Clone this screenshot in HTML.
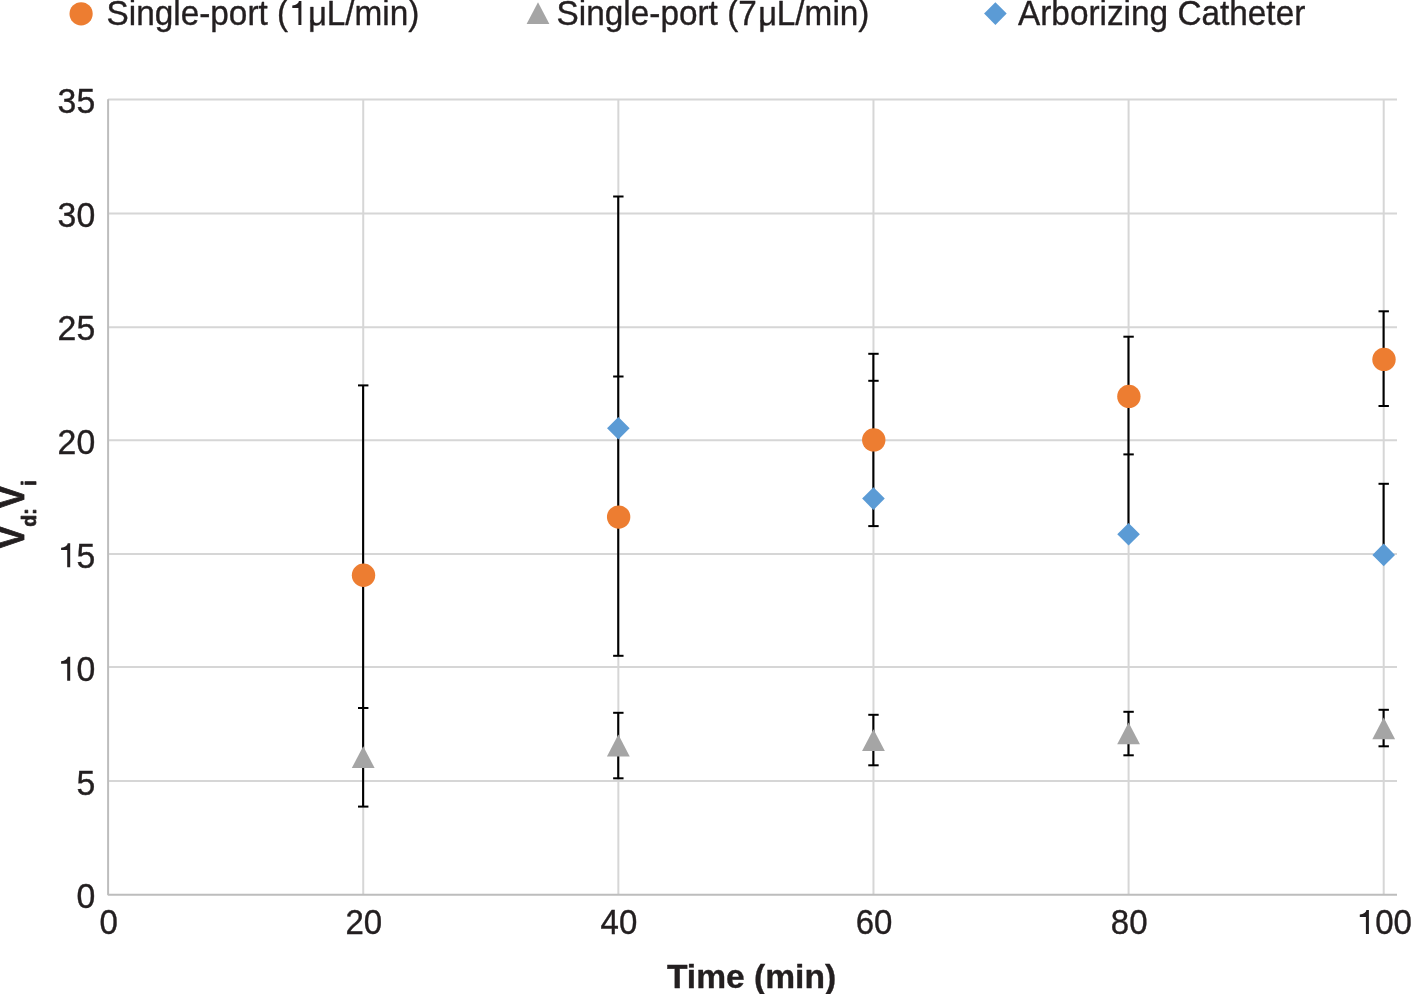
<!DOCTYPE html>
<html><head><meta charset="utf-8"><title>Chart</title>
<style>html,body{margin:0;padding:0;background:#fff;overflow:hidden}svg{display:block;will-change:transform}text{font-family:"Liberation Sans",sans-serif;fill:#231f20;stroke:#231f20;stroke-width:0.35px;stroke-linejoin:round}.h{fill:none;stroke:none}</style></head><body>
<svg width="1411" height="994" viewBox="0 0 1411 994">
<rect width="1411" height="994" fill="#ffffff"/>
<line x1="108.10" x2="1397.00" y1="781.02" y2="781.02" stroke="#d6d6d6" stroke-width="2"/>
<line x1="108.10" x2="1397.00" y1="666.94" y2="666.94" stroke="#d6d6d6" stroke-width="2"/>
<line x1="108.10" x2="1397.00" y1="554.12" y2="554.12" stroke="#d6d6d6" stroke-width="2"/>
<line x1="108.10" x2="1397.00" y1="440.20" y2="440.20" stroke="#d6d6d6" stroke-width="2"/>
<line x1="108.10" x2="1397.00" y1="327.32" y2="327.32" stroke="#d6d6d6" stroke-width="2"/>
<line x1="108.10" x2="1397.00" y1="213.45" y2="213.45" stroke="#d6d6d6" stroke-width="2"/>
<line x1="108.10" x2="1397.00" y1="99.57" y2="99.57" stroke="#d6d6d6" stroke-width="2"/>
<line x1="363.22" x2="363.22" y1="99.57" y2="894.85" stroke="#d6d6d6" stroke-width="2"/>
<line x1="618.34" x2="618.34" y1="99.57" y2="894.85" stroke="#d6d6d6" stroke-width="2"/>
<line x1="873.46" x2="873.46" y1="99.57" y2="894.85" stroke="#d6d6d6" stroke-width="2"/>
<line x1="1128.58" x2="1128.58" y1="99.57" y2="894.85" stroke="#d6d6d6" stroke-width="2"/>
<line x1="1383.70" x2="1383.70" y1="99.57" y2="894.85" stroke="#d6d6d6" stroke-width="2"/>
<polyline points="108.10,99.17 108.10,894.85 1397.00,894.85" fill="none" stroke="#bdbdbd" stroke-width="2" stroke-linejoin="bevel"/>
<text transform="translate(95.2,908.30) scale(1.025,1.055)" font-size="33" text-anchor="end">0</text>
<text transform="translate(95.2,794.73) scale(1.025,1.055)" font-size="33" text-anchor="end">5</text>
<path d="M70.20,680.76 L70.20,656.86 L67.75,656.86 C67.30,659.16 65.00,661.06 61.10,661.26 L61.10,663.66 L67.20,663.66 L67.20,680.76 Z" fill="#231f20"/>
<text transform="translate(95.2,681.16) scale(1.025,1.055)" font-size="33" text-anchor="end"><tspan class="h">1</tspan>0</text>
<path d="M70.20,567.19 L70.20,543.29 L67.75,543.29 C67.30,545.59 65.00,547.49 61.10,547.69 L61.10,550.09 L67.20,550.09 L67.20,567.19 Z" fill="#231f20"/>
<text transform="translate(95.2,567.59) scale(1.025,1.055)" font-size="33" text-anchor="end"><tspan class="h">1</tspan>5</text>
<text transform="translate(95.2,454.02) scale(1.025,1.055)" font-size="33" text-anchor="end">20</text>
<text transform="translate(95.2,340.45) scale(1.025,1.055)" font-size="33" text-anchor="end">25</text>
<text transform="translate(95.2,226.88) scale(1.025,1.055)" font-size="33" text-anchor="end">30</text>
<text transform="translate(95.2,113.31) scale(1.025,1.055)" font-size="33" text-anchor="end">35</text>
<text transform="translate(108.70,934.1) scale(1,1.04)" font-size="33" text-anchor="middle">0</text>
<text transform="translate(363.82,934.1) scale(1,1.04)" font-size="33" text-anchor="middle">20</text>
<text transform="translate(618.94,934.1) scale(1,1.04)" font-size="33" text-anchor="middle">40</text>
<text transform="translate(874.06,934.1) scale(1,1.04)" font-size="33" text-anchor="middle">60</text>
<text transform="translate(1129.18,934.1) scale(1,1.04)" font-size="33" text-anchor="middle">80</text>
<path d="M1368.90,934.10 L1368.90,910.10 L1366.45,910.10 C1366.00,912.41 1363.70,914.32 1359.80,914.52 L1359.80,916.93 L1365.90,916.93 L1365.90,934.10 Z" fill="#231f20"/>
<text transform="translate(1384.30,934.1) scale(1,1.04)" font-size="33" text-anchor="middle"><tspan class="h">1</tspan>00</text>
<text transform="translate(751.5,988) scale(1.018,1.03)" font-size="33" font-weight="bold" text-anchor="middle">Time (min)</text>
<g transform="translate(24.3,548) rotate(-90) scale(0.97,1.05)"><text x="0" y="0" font-size="33" font-weight="bold" style="stroke-width:0.8px">V<tspan font-size="20" dy="11.5">d:</tspan><tspan dy="-11.5" dx="0.6">V</tspan><tspan font-size="20" dy="11.5" dx="0.7">i</tspan></text></g>
<line x1="363.12" x2="363.12" y1="385.40" y2="806.60" stroke="#000" stroke-width="2.1"/>
<line x1="358.02" x2="368.42" y1="385.40" y2="385.40" stroke="#000" stroke-width="2"/>
<line x1="358.02" x2="368.42" y1="708.00" y2="708.00" stroke="#000" stroke-width="2"/>
<line x1="358.02" x2="368.42" y1="806.60" y2="806.60" stroke="#000" stroke-width="2"/>
<line x1="618.24" x2="618.24" y1="196.50" y2="655.80" stroke="#000" stroke-width="2.1"/>
<line x1="613.14" x2="623.54" y1="196.50" y2="196.50" stroke="#000" stroke-width="2"/>
<line x1="613.14" x2="623.54" y1="376.50" y2="376.50" stroke="#000" stroke-width="2"/>
<line x1="613.14" x2="623.54" y1="655.80" y2="655.80" stroke="#000" stroke-width="2"/>
<line x1="618.24" x2="618.24" y1="712.80" y2="778.30" stroke="#000" stroke-width="2.1"/>
<line x1="613.14" x2="623.54" y1="712.80" y2="712.80" stroke="#000" stroke-width="2"/>
<line x1="613.14" x2="623.54" y1="778.30" y2="778.30" stroke="#000" stroke-width="2"/>
<line x1="873.36" x2="873.36" y1="353.80" y2="526.10" stroke="#000" stroke-width="2.1"/>
<line x1="868.26" x2="878.66" y1="353.80" y2="353.80" stroke="#000" stroke-width="2"/>
<line x1="868.26" x2="878.66" y1="380.80" y2="380.80" stroke="#000" stroke-width="2"/>
<line x1="868.26" x2="878.66" y1="526.10" y2="526.10" stroke="#000" stroke-width="2"/>
<line x1="873.36" x2="873.36" y1="714.80" y2="765.30" stroke="#000" stroke-width="2.1"/>
<line x1="868.26" x2="878.66" y1="714.80" y2="714.80" stroke="#000" stroke-width="2"/>
<line x1="868.26" x2="878.66" y1="765.30" y2="765.30" stroke="#000" stroke-width="2"/>
<line x1="1128.48" x2="1128.48" y1="336.70" y2="534.30" stroke="#000" stroke-width="2.1"/>
<line x1="1123.38" x2="1133.78" y1="336.70" y2="336.70" stroke="#000" stroke-width="2"/>
<line x1="1123.38" x2="1133.78" y1="454.40" y2="454.40" stroke="#000" stroke-width="2"/>
<line x1="1128.48" x2="1128.48" y1="711.80" y2="755.30" stroke="#000" stroke-width="2.1"/>
<line x1="1123.38" x2="1133.78" y1="711.80" y2="711.80" stroke="#000" stroke-width="2"/>
<line x1="1123.38" x2="1133.78" y1="755.30" y2="755.30" stroke="#000" stroke-width="2"/>
<line x1="1383.60" x2="1383.60" y1="311.30" y2="406.00" stroke="#000" stroke-width="2.1"/>
<line x1="1378.50" x2="1388.90" y1="311.30" y2="311.30" stroke="#000" stroke-width="2"/>
<line x1="1378.50" x2="1388.90" y1="406.00" y2="406.00" stroke="#000" stroke-width="2"/>
<line x1="1383.60" x2="1383.60" y1="483.80" y2="554.30" stroke="#000" stroke-width="2.1"/>
<line x1="1378.50" x2="1388.90" y1="483.80" y2="483.80" stroke="#000" stroke-width="2"/>
<line x1="1383.60" x2="1383.60" y1="709.80" y2="746.30" stroke="#000" stroke-width="2.1"/>
<line x1="1378.50" x2="1388.90" y1="709.80" y2="709.80" stroke="#000" stroke-width="2"/>
<line x1="1378.50" x2="1388.90" y1="746.30" y2="746.30" stroke="#000" stroke-width="2"/>
<polygon points="618.34,416.90 629.64,428.20 618.34,439.50 607.04,428.20" fill="#5b9bd5"/>
<polygon points="873.46,487.30 884.76,498.60 873.46,509.90 862.16,498.60" fill="#5b9bd5"/>
<polygon points="1128.58,522.90 1139.88,534.20 1128.58,545.50 1117.28,534.20" fill="#5b9bd5"/>
<polygon points="1383.70,543.60 1395.00,554.90 1383.70,566.20 1372.40,554.90" fill="#5b9bd5"/>
<circle cx="363.52" cy="575.30" r="11.70" fill="#ed7d31"/>
<circle cx="618.64" cy="517.10" r="11.70" fill="#ed7d31"/>
<circle cx="873.76" cy="439.90" r="11.70" fill="#ed7d31"/>
<circle cx="1128.88" cy="396.40" r="11.70" fill="#ed7d31"/>
<circle cx="1384.00" cy="359.40" r="11.70" fill="#ed7d31"/>
<polygon points="363.22,746.20 374.62,768.00 351.82,768.00" fill="#a5a5a5"/>
<polygon points="618.34,734.60 629.74,756.40 606.94,756.40" fill="#a5a5a5"/>
<polygon points="873.46,729.20 884.86,751.00 862.06,751.00" fill="#a5a5a5"/>
<polygon points="1128.58,722.40 1139.98,744.20 1117.18,744.20" fill="#a5a5a5"/>
<polygon points="1383.70,717.40 1395.10,739.20 1372.30,739.20" fill="#a5a5a5"/>
<circle cx="81.10" cy="13.80" r="11.60" fill="#ed7d31"/>
<text transform="translate(106.5,25.2) scale(1.011,1.04)" font-size="33">Single-port (<tspan class="h">1µ</tspan><tspan dx="0.8">L/min)</tspan></text>
<g transform="translate(308.21,25.20) scale(0.016291,-0.016758)" fill="#231f20" stroke="#231f20" stroke-width="22" stroke-linejoin="round"><path d="M314 1082V396Q314 289 335.0 230.0Q356 171 402.0 145.0Q448 119 537 119Q667 119 742.0 208.0Q817 297 817 455V1082H997V231Q997 42 1003 0H833Q832 5 831.0 27.0Q830 49 828.5 77.5Q827 106 825 185H822Q760 73 678.5 26.5Q597 -20 476 -20Q298 -20 215.5 68.5Q133 157 133 361V1082Z"/><path d="M133 300H314V-395H133Z"/></g>
<path d="M301.40,25.00 L301.40,1.10 L298.95,1.10 C298.50,3.40 296.20,5.30 292.30,5.50 L292.30,7.90 L298.40,7.90 L298.40,25.00 Z" fill="#231f20"/>
<polygon points="538.00,2.30 549.40,24.10 526.60,24.10" fill="#a5a5a5"/>
<text transform="translate(556.6,25.2) scale(1.011,1.04)" font-size="33">Single-port (7<tspan class="h">µ</tspan><tspan dx="0.8">L/min)</tspan></text>
<g transform="translate(758.31,25.20) scale(0.016291,-0.016758)" fill="#231f20" stroke="#231f20" stroke-width="22" stroke-linejoin="round"><path d="M314 1082V396Q314 289 335.0 230.0Q356 171 402.0 145.0Q448 119 537 119Q667 119 742.0 208.0Q817 297 817 455V1082H997V231Q997 42 1003 0H833Q832 5 831.0 27.0Q830 49 828.5 77.5Q827 106 825 185H822Q760 73 678.5 26.5Q597 -20 476 -20Q298 -20 215.5 68.5Q133 157 133 361V1082Z"/><path d="M133 300H314V-395H133Z"/></g>
<polygon points="995.40,2.30 1006.70,13.60 995.40,24.90 984.10,13.60" fill="#5b9bd5"/>
<text transform="translate(1018,25.2) scale(1.011,1.04)" font-size="33">Arborizing Catheter</text>
</svg></body></html>
